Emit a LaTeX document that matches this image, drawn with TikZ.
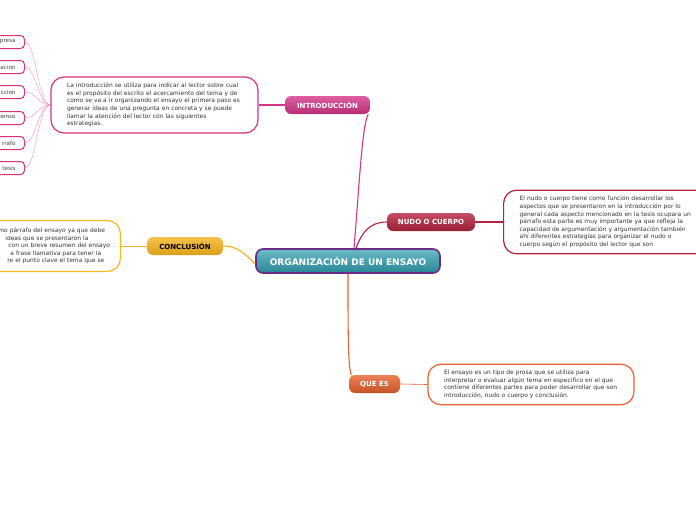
\documentclass[tikz,border=0pt]{standalone}
\usepackage{fontspec}
\setmainfont{DejaVu Sans}
\usetikzlibrary{positioning}

\definecolor{introcol}{HTML}{D6368A}
\definecolor{nudocol}{HTML}{B5223D}
\definecolor{conclcol}{HTML}{F2B21E}
\definecolor{quecol}{HTML}{E8612E}
\definecolor{centcol}{HTML}{2E9DAF}
\definecolor{borcol}{HTML}{6B2A86}

\tikzset{
  branch/.style={rounded corners=6pt,minimum height=18pt,inner xsep=6pt,
    font=\fontsize{7}{7}\selectfont\bfseries,text=white},
  textbox/.style={draw,line width=1.2pt,rounded corners=13pt,fill=white,
    inner xsep=16pt,inner ysep=6pt,align=left,
    font=\fontsize{5.95}{7.6}\selectfont,text=black!80},
  leaf/.style={draw=introcol!90!red,line width=1pt,rounded corners=4pt,fill=white,
    minimum height=13pt,minimum width=60pt,inner xsep=9pt,anchor=east,
    font=\fontsize{5.6}{5.6}\selectfont,text=black!75,align=right,text width=42pt},
  link/.style={line width=1.1pt},
  twig/.style={draw=introcol!55,line width=0.4pt}
}

\begin{document}
\begin{tikzpicture}[x=1pt,y=-1pt]
  \useasboundingbox (0,0) rectangle (696,520);
  % centro
  \node[rounded corners=7pt,draw=borcol,line width=1.6pt,top color=centcol!70!white,
    bottom color=centcol!85!black,minimum width=184pt,minimum height=24pt,inner xsep=4pt,
    font=\fontsize{9}{9}\selectfont\bfseries,text=white] (cent) at (348,261)
    {ORGANIZACIÓN DE UN ENSAYO};
  % ramas
  \node[branch,top color=introcol!80!white,bottom color=introcol!85!black,minimum width=85pt]
    (intro) at (327.5,105) {INTRODUCCIÓN};
  \node[branch,top color=nudocol!80!white,bottom color=nudocol!85!black,minimum width=88pt]
    (nudo) at (431,222) {NUDO O CUERPO};
  \node[branch,top color=conclcol!80!white,bottom color=conclcol!90!black,minimum width=76pt,
    text=black] (concl) at (185,246) {CONCLUSIÓN};
  \node[branch,top color=quecol!80!white,bottom color=quecol!85!black,minimum width=51pt]
    (quees) at (374.5,384) {QUE ES};
  % textos
  \node[textbox,draw=introcol!90!red,text width=175pt,minimum height=50pt] (introtxt) at (154.5,105)
    {La introducción se utiliza para indicar al lector sobre cual\\
     es el propósito del escrito el acercamiento del tema y de\\
     como se va a ir organizando el ensayo el primera paso es\\
     generar ideas de una pregunta en concreta y se puede\\
     llamar la atención del lector con las siguientes\\
     estrategias.};
  \node[textbox,draw=nudocol!95!red,text width=175pt,minimum height=58pt,anchor=west] (nudotxt) at (503,222)
    {El nudo o cuerpo tiene como función desarrollar los\\
     aspectos que se presentaron en la introducción por lo\\
     general cada aspecto mencionado en la tesis ocupara un\\
     párrafo esta parte es muy importante ya que refleja la\\
     capacidad de argumentación y argumentación también\\
     ahí diferentes estrategias  para organizar el nudo o\\
     cuerpo según el propósito del lector que son};
  \node[textbox,draw=conclcol!90!yellow,inner xsep=10pt,text width=200pt,minimum height=51pt,anchor=east] (concltxt) at (121,246)
    {\hspace*{88pt}\mbox{mo párrafo del ensayo ya que debe}\\
     \hspace*{95pt}\mbox{ideas que se presentaron la}\\
     \hspace*{98pt}\mbox{con un breve resumen del ensayo}\\
     \hspace*{100pt}\mbox{a frase llamativa para tener la}\\
     \hspace*{97pt}\mbox{re el punto clave el tema que se}};
  \node[textbox,draw=quecol,text width=174pt,minimum height=37pt] (questxt) at (531,384.5)
    {El ensayo es un tipo de prosa que se utiliza para\\
     interpretar o evaluar algún tema en especifico en el que\\
     contiene diferentes partes para poder desarrollar que son\\
     introducción, nudo o cuerpo y conclusión.};
  % hojas
  \foreach \t/\y [count=\i] in {presa/42,acion/67,ccion/92,penso/118,rrafo/143,tesis/168} {
    \node[leaf] (hoja\i) at (25,\y) {\t};
    \draw[twig] (introtxt.west) .. controls (38,105) and (36,\y) .. (hoja\i.east);
  }
  % conectores
  \draw[link,draw=introcol] ([xshift=6pt]cent.north) .. controls (359,190) and (362,125) .. ([xshift=-2pt]intro.south east);
  \draw[link,draw=nudocol] ([xshift=8pt]cent.north) .. controls (362,232) and (370,222) .. (nudo.west);
  \draw[link,draw=conclcol] ([yshift=-3pt]cent.west) .. controls (240,248) and (232,246) .. (concl.east);
  \draw[link,draw=quecol] (cent.south) .. controls (348,330) and (348,370) .. ([xshift=-23pt]quees.north);
  \draw[link,draw=introcol] (intro.west) -- (introtxt.east);
  \draw[link,draw=nudocol] (nudo.east) -- (nudotxt.west);
  \draw[line width=0.5pt,draw=conclcol] (concl.west) -- (concltxt.east);
  \draw[line width=0.6pt,draw=quecol] (quees.east) -- (questxt.west);
\end{tikzpicture}
\end{document}
